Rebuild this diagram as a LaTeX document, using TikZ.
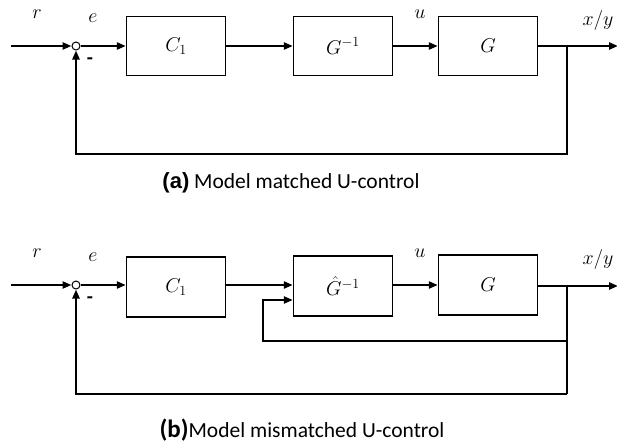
\RequirePackage{fix-cm}
\documentclass[tikz,border=0pt]{standalone}
\usepackage{fontspec}
\setmainfont{Carlito}
\newfontfamily\arialfont{Liberation Sans}
\usetikzlibrary{arrows.meta}
\begin{document}
\begin{tikzpicture}[x=1pt,y=-1pt,
  blk/.style={draw,line width=1.4pt,minimum width=99pt,minimum height=59pt,inner sep=0pt},
  sumc/.style={draw,circle,line width=1pt,minimum size=8pt,inner sep=0pt,fill=white},
  sig/.style={line width=2.6pt,-{Triangle[length=9pt,width=7pt]}},
  wire/.style={line width=2.6pt},
  lbl/.style={font=\fontsize{20}{22}\selectfont},
  captxt/.style={font=\fontsize{21.5}{24}\selectfont},
  minus/.style={font=\fontsize{20}{22}\selectfont\bfseries}]
\useasboundingbox (0,0) rectangle (617,445);
% ---------- (a) ----------
\coordinate (in1) at (11,46);
\node[sumc] (s1) at (76,46) {};
\node[blk,lbl] (c1) at (176,46) {$C_1$};
\node[blk,lbl] (gi1) at (343,46) {$G^{-1}$};
\node[blk,lbl] (g1) at (488,46) {$G$};
\coordinate (br1) at (567,46);
\coordinate (out1) at (618,46);
\coordinate (fb1) at (567,154);
\draw[sig] (in1) -- (s1.west);
\draw[sig] (s1.east) -- (c1.west);
\draw[sig] (c1.east) -- (gi1.west);
\draw[sig] (gi1.east) -- (g1.west);
\draw[sig] (g1.east) -- (out1);
\draw[sig] (br1) -- (fb1) -| (s1.south);
\node[lbl] (r1) at (37,14) {$r$};
\node[lbl] (e1) at (93,18) {$e$};
\node[lbl] (u1) at (420,14) {$u$};
\node[lbl] (xy1) at (598,20) {$x/y$};
\node[minus] (m1) at (90,61) {-};
\node[captxt] (capa) at (291,183) {{\arialfont\fontsize{22}{24}\selectfont\bfseries(a)} Model matched U-control};
% ---------- (b) ----------
\coordinate (in2) at (11,285);
\node[sumc] (s2) at (76,285) {};
\node[blk,lbl,minimum height=60pt] (c2) at (176,287) {$C_1$};
\node[blk,lbl,minimum height=60pt] (gi2) at (343,286) {$\hat{G}^{-1}$};
\node[blk,lbl,minimum height=60pt] (g2) at (488,285) {$G$};
\coordinate (br2) at (567,286);
\coordinate (out2) at (618,286);
\coordinate (fbi) at (567,341);
\coordinate (fbil) at (263,341);
\coordinate (fbin) at (263,300);
\coordinate (fb2) at (567,394);
\draw[sig] (in2) -- (s2.west);
\draw[sig] (s2.east) -- (c2.west |- s2.east);
\draw[sig] (c2.east |- s2.east) -- (gi2.west |- s2.east);
\draw[sig] (gi2.east |- s2.east) -- (g2.west |- s2.east);
\draw[sig] (g2.east |- br2) -- (out2);
\draw[wire] (br2) -- (fb2);
\draw[sig] (fbi) -- (fbil) -- (fbin) -- (gi2.west |- fbin);
\draw[sig] (fb2) -| (s2.south);
\node[lbl] (r2) at (37,253) {$r$};
\node[lbl] (e2) at (93,257) {$e$};
\node[lbl] (u2) at (420,253) {$u$};
\node[lbl] (xy2) at (598,259) {$x/y$};
\node[minus] (m2) at (90,300) {-};
\node[captxt] (capb) at (302,430) {{\fontsize{25}{27}\selectfont\bfseries(b)}Model mismatched U-control};
\end{tikzpicture}
\end{document}
